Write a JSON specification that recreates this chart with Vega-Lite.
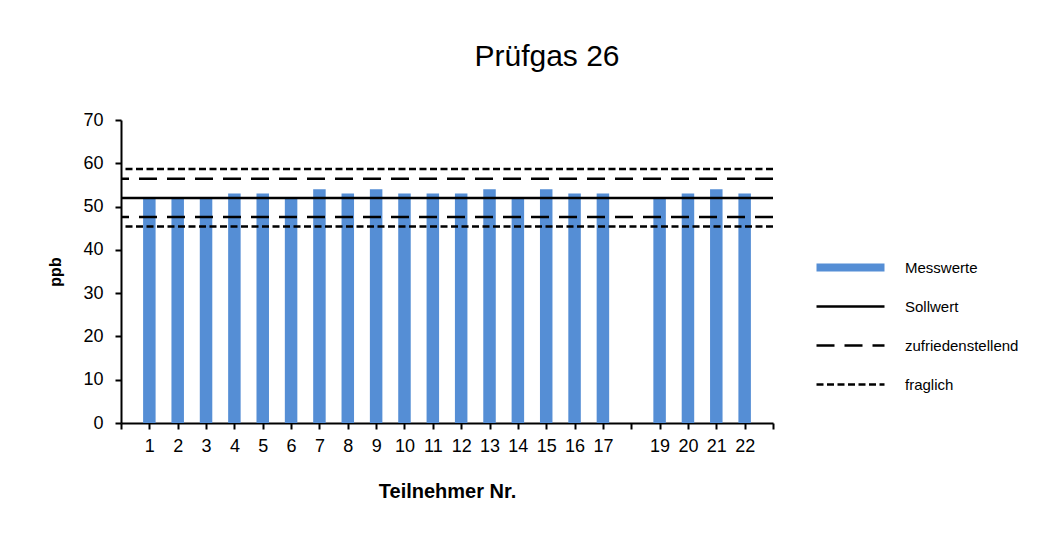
{
  "$schema": "https://vega.github.io/schema/vega-lite/v6.json",
  "width": 652,
  "height": 303,
  "autosize": {"type": "none"},
  "padding": {"left": 121, "top": 120, "right": 278, "bottom": 113},
  "background": "white",
  "config": {"view": {"stroke": null}, "font": "Liberation Sans"},
  "title": {
    "text": "Prüfgas 26",
    "fontSize": 30,
    "font": "Liberation Sans",
    "fontWeight": "normal",
    "color": "black",
    "anchor": "middle",
    "frame": "group",
    "dx": 100,
    "baseline": "alphabetic",
    "offset": 15
  },
  "datasets": {
    "bars": [
      {"nr": 1, "value": 52, "series": "Messwerte"},
      {"nr": 2, "value": 52, "series": "Messwerte"},
      {"nr": 3, "value": 52, "series": "Messwerte"},
      {"nr": 4, "value": 53, "series": "Messwerte"},
      {"nr": 5, "value": 53, "series": "Messwerte"},
      {"nr": 6, "value": 52, "series": "Messwerte"},
      {"nr": 7, "value": 54, "series": "Messwerte"},
      {"nr": 8, "value": 53, "series": "Messwerte"},
      {"nr": 9, "value": 54, "series": "Messwerte"},
      {"nr": 10, "value": 53, "series": "Messwerte"},
      {"nr": 11, "value": 53, "series": "Messwerte"},
      {"nr": 12, "value": 53, "series": "Messwerte"},
      {"nr": 13, "value": 54, "series": "Messwerte"},
      {"nr": 14, "value": 52, "series": "Messwerte"},
      {"nr": 15, "value": 54, "series": "Messwerte"},
      {"nr": 16, "value": 53, "series": "Messwerte"},
      {"nr": 17, "value": 53, "series": "Messwerte"},
      {"nr": 19, "value": 52, "series": "Messwerte"},
      {"nr": 20, "value": 53, "series": "Messwerte"},
      {"nr": 21, "value": 54, "series": "Messwerte"},
      {"nr": 22, "value": 53, "series": "Messwerte"}
    ],
    "lines": [
      {"value": 52, "series": "Sollwert"},
      {"value": 56.4, "series": "zufriedenstellend"},
      {"value": 47.6, "series": "zufriedenstellend"},
      {"value": 58.7, "series": "fraglich"},
      {"value": 45.4, "series": "fraglich"}
    ]
  },
  "layer": [
    {
      "data": {"name": "bars"},
      "mark": {"type": "bar", "size": 12.5},
      "encoding": {
        "x": {
          "field": "nr",
          "type": "quantitative",
          "scale": {"domain": [0, 23], "nice": false, "zero": false, "padding": 0},
          "axis": {
            "values": [0,1,2,3,4,5,6,7,8,9,10,11,12,13,14,15,16,17,18,19,20,21,22,23],
            "labelExpr": "datum.value == 0 || datum.value == 18 || datum.value == 23 ? '' : datum.value",
            "grid": false,
            "domainColor": "black",
            "domainWidth": 2,
            "tickColor": "black",
            "tickWidth": 2,
            "tickSize": 6,
            "labelFont": "Liberation Sans",
            "labelFontSize": 18,
            "labelColor": "black",
            "labelPadding": 8,
            "labelFlush": false,
            "labelOverlap": false,
            "title": "Teilnehmer Nr.",
            "titleFont": "Liberation Sans",
            "titleFontSize": 20,
            "titleFontWeight": "bold",
            "titleColor": "black",
            "titlePadding": 26
          }
        },
        "y": {
          "field": "value",
          "type": "quantitative",
          "scale": {"domain": [0, 70], "nice": false},
          "axis": {
            "values": [0, 10, 20, 30, 40, 50, 60, 70],
            "grid": false,
            "domainColor": "black",
            "domainWidth": 2,
            "tickColor": "black",
            "tickWidth": 2,
            "tickSize": 6,
            "labelFont": "Liberation Sans",
            "labelFontSize": 18,
            "labelColor": "black",
            "labelPadding": 12,
            "title": "ppb",
            "titleFont": "Liberation Sans",
            "titleFontSize": 16,
            "titleFontWeight": "bold",
            "titleColor": "black",
            "titlePadding": 19
          }
        },
        "color": {
          "field": "series",
          "type": "nominal",
          "scale": {
            "domain": ["Messwerte", "Sollwert", "zufriedenstellend", "fraglich"],
            "range": ["#558ed5", "#000000", "#000000", "#000000"]
          },
          "legend": {
            "title": null,
            "orient": "none",
            "legendX": 722,
            "legendY": 140,
            "symbolType": "stroke",
            "symbolSize": 4624,
            "symbolStrokeWidth": 2.5,
            "gridAlign": "all",
            "rowPadding": 15,
            "labelFont": "Liberation Sans",
            "labelFontSize": 15,
            "labelColor": "black",
            "labelOffset": 47,
            "encode": {
              "symbols": {
                "update": {
                  "stroke": {"signal": "datum.value === 'Messwerte' ? '#558ed5' : '#000000'"},
                  "strokeWidth": {"signal": "datum.value === 'Messwerte' ? 8 : 2.5"},
                  "strokeDash": {"signal": "datum.value === 'zufriedenstellend' ? [18, 8] : datum.value === 'fraglich' ? [6, 3.5] : [1, 0]"},
                  "opacity": {"value": 1}
                }
              }
            }
          }
        }
      }
    },
    {
      "data": {"name": "lines"},
      "mark": {"type": "rule", "strokeWidth": 2.5},
      "encoding": {
        "y": {"field": "value", "type": "quantitative"},
        "color": {"field": "series", "type": "nominal"},
        "strokeDash": {
          "field": "series",
          "type": "nominal",
          "scale": {
            "domain": ["Messwerte", "Sollwert", "zufriedenstellend", "fraglich"],
            "range": [[1, 0], [1, 0], [18, 10], [7, 3.5]]
          },
          "legend": null
        }
      }
    }
  ]
}
